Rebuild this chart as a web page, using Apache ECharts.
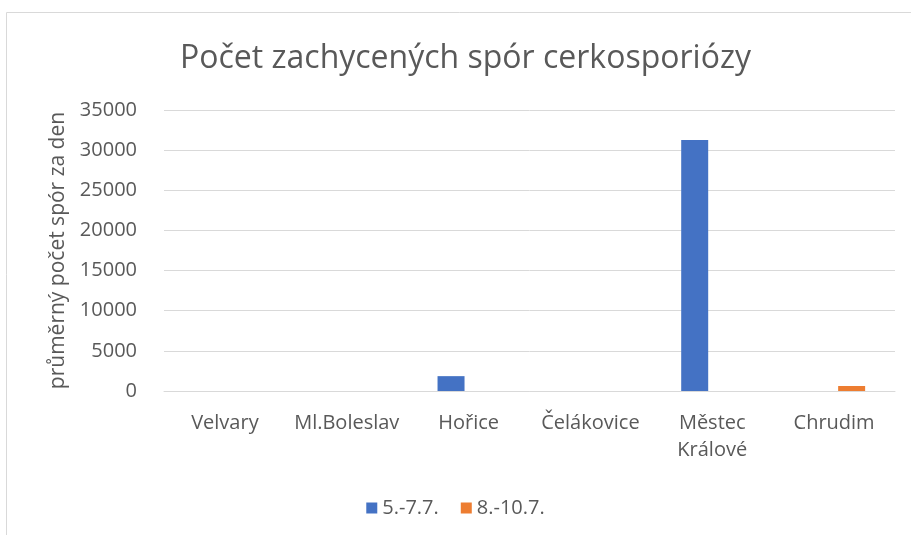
<!DOCTYPE html>
<html>
<head>
<meta charset="utf-8">
<script src="https://cdn.jsdelivr.net/npm/echarts@6/dist/echarts.min.js"></script>
<style>
  html, body { margin: 0; padding: 0; background: #fff; }
  #chart { width: 911px; height: 535px; }
</style>
</head>
<body>
<div id="chart"></div>
<script>
  // data
  const categories = ['Velvary', 'Ml.Boleslav', 'Hořice', 'Čelákovice', 'Městec\nKrálové', 'Chrudim']
  const seriesNames = ['5.-7.7.', '8.-10.7.']
  const firstPeriod = [0, 0, 1850, 0, 31250, 0]
  const secondPeriod = [0, 0, 0, 0, 0, 620]

  const font = '"Open Sans", "DejaVu Sans", sans-serif'
  const chart = echarts.init(document.getElementById('chart'))

  chart.setOption({
    animation: false,
    textStyle: { fontFamily: font },
    graphic: [{
      type: 'rect',
      left: 4,
      top: 10,
      shape: { width: 960, height: 600 },
      style: { fill: 'none', stroke: '#d9d9d9', lineWidth: 1 },
      silent: true
    }],
    title: {
      text: 'Počet zachycených spór cerkosporiózy',
      left: 175,
      top: 38,
      textStyle: { fontFamily: font, fontSize: 32, fontWeight: 'normal', color: '#595959' }
    },
    grid: {
      left: 164,
      right: 16,
      top: 110,
      bottom: 144
    },
    legend: {
      data: seriesNames,
      top: 493,
      left: 'center',
      itemWidth: 11,
      itemHeight: 11,
      itemGap: 22,
      icon: 'rect',
      textStyle: { fontFamily: font, fontSize: 20, color: '#595959' }
    },
    xAxis: {
      type: 'category',
      data: categories,
      axisTick: { show: false },
      axisLine: { lineStyle: { color: '#d9d9d9', width: 1 } },
      axisLabel: { fontFamily: font, fontSize: 20, color: '#595959', margin: 19, lineHeight: 27, interval: 0 }
    },
    yAxis: {
      type: 'value',
      min: 0,
      max: 35000,
      interval: 5000,
      name: 'průměrný počet spór za den',
      nameLocation: 'middle',
      nameGap: 92,
      nameTextStyle: { fontFamily: font, fontSize: 21, color: '#595959' },
      axisLine: { show: false },
      axisTick: { show: false },
      axisLabel: { fontFamily: font, fontSize: 20, color: '#595959', margin: 27, formatter: v => String(v) },
      splitLine: { lineStyle: { color: '#d9d9d9', width: 1 } }
    },
    series: [
      {
        name: seriesNames[0],
        type: 'bar',
        data: firstPeriod,
        barWidth: 27,
        barGap: '30%',
        itemStyle: { color: '#4472C4' }
      },
      {
        name: seriesNames[1],
        type: 'bar',
        data: secondPeriod,
        barWidth: 27,
        barGap: '30%',
        itemStyle: { color: '#ED7D31' }
      }
    ]
  })
</script>
</body>
</html>
